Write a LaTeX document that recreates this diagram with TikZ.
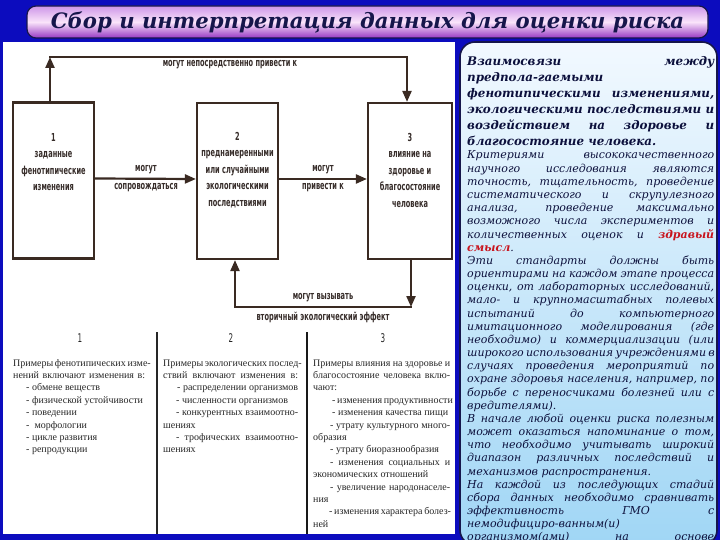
\documentclass[tikz,border=0pt]{standalone}
\usepackage{fontspec}
\setmainfont{Liberation Serif}
\newfontfamily\condf{DejaVu Sans}
\newfontfamily\panelf{DejaVu Serif}
\usetikzlibrary{arrows.meta}
\definecolor{bgblue}{RGB}{12,12,190}
\definecolor{ink}{RGB}{58,42,34}
\definecolor{bink}{RGB}{55,45,42}
\definecolor{navy}{RGB}{22,22,75}
\definecolor{ptext}{RGB}{12,16,60}
\definecolor{redw}{RGB}{200,20,30}
\newcommand{\cnd}[1]{\scalebox{0.6}[1]{#1}}
\newcommand{\jl}[2]{\makebox[#1][s]{#2}}
\begin{document}
\begin{tikzpicture}[x=1pt,y=-1pt,
  conn/.style={draw=ink,line width=2.2pt,-{Triangle[length=11pt,width=9pt]}},
  box/.style={draw=ink,line width=2.2pt,fill=white,minimum height=156pt,inner sep=0pt},
  btext/.style={font=\condf\bfseries\fontsize{11}{16.5}\selectfont,text=bink,align=center,inner sep=0pt},
  lbl/.style={font=\condf\bfseries\fontsize{11}{13}\selectfont,text=bink,inner sep=0pt},
  colnum/.style={font=\condf\fontsize{12}{13}\selectfont,text=black!85,inner sep=0pt},
  coltext/.style={anchor=base west,inner sep=0pt,text=black!85,font=\fontsize{10}{12.4}\selectfont},
]
\fill[bgblue] (0,0) rectangle (720,540);
\useasboundingbox (0,0) rectangle (720,540);
% title bar
\node[draw=navy,line width=1.2pt,rounded corners=9pt,top color={rgb,255:red,205;green,150;blue,232},bottom color={rgb,255:red,150;green,55;blue,195},middle color={rgb,255:red,250;green,228;blue,250},minimum width=681pt,minimum height=32pt,inner sep=0pt] (tb) at (367.5,22) {};
\node[font=\panelf\bfseries\itshape\fontsize{21.2}{24}\selectfont,text=navy,inner sep=0pt] (title) at (367.5,22) {Сбор и интерпретация данных для оценки риска};
% left white panel
\fill[white] (3,42) rectangle (455,534);
% boxes
\node[box,minimum width=81pt] (b1) at (53.5,180.5) {};
\node[box,minimum width=81pt] (b2) at (237.5,181) {};
\node[box,minimum width=84pt] (b3) at (410,181) {};
\node[btext] (t1) at (53.5,162) {\cnd{1}\\\cnd{заданные}\\\cnd{фенотипические}\\\cnd{изменения}};
\node[btext] (t2) at (237.5,170) {\cnd{2}\\\cnd{преднамеренными}\\\cnd{или случайными}\\\cnd{экологическими}\\\cnd{последствиями}};
\node[btext] (t3) at (410,170) {\cnd{3}\\\cnd{влияние на}\\\cnd{здоровье и}\\\cnd{благосостояние}\\\cnd{человека}};
% top connector
\coordinate (tl) at (50,57);
\coordinate (tr) at (407,57);
\draw[conn] (b1.north -| tl) -- (tl);
\draw[conn,line cap=rect] (tl) -- (tr) -- (b3.north -| tr);
\node[lbl] (l0) at (230,65) {\cnd{могут непосредственно привести к}};
% middle connectors
\draw[conn] ([yshift=2pt]b1.east) -- ([yshift=2pt]b2.west);
\draw[conn] ([yshift=2pt]b2.east) -- ([yshift=2pt]b3.west);
\node[lbl] (l1) at (146,170) {\cnd{могут}};
\node[lbl] (l2) at (146,188) {\cnd{сопровождаться}};
\node[lbl] (l3) at (323,170) {\cnd{могут}};
\node[lbl] (l4) at (323,188) {\cnd{привести к}};
% feedback connector
\coordinate (fr) at (411,307);
\coordinate (fl) at (235,307);
\draw[conn] (b3.south -| fr) -- (fr);
\draw[conn,line cap=rect] (fr) -- (fl) -- (b2.south -| fl);
\node[lbl] (l5) at (323,298) {\cnd{могут вызывать}};
\node[lbl] (l6) at (323,317) {\cnd{вторичный экологический эффект}};
% table
\node[colnum] (n1) at (80,338) {\cnd{1}};
\node[colnum] (n2) at (231,338) {\cnd{2}};
\node[colnum] (n3) at (383,338) {\cnd{3}};
\draw[black!85,line width=1.2pt] (157,332) -- (157,534);
\draw[black!90,line width=2pt] (307,332) -- (307,534);
\node[coltext] (c1) at (13,366) {\parbox[t]{132pt}{%
\jl{132pt}{Примеры фенотипических изме-}\\
\jl{132pt}{нений включают изменения в:}\\
\hspace*{13pt}- обмене веществ\\
\hspace*{13pt}- физической устойчивости\\
\hspace*{13pt}- поведении\\
\hspace*{13pt}-\ \ морфологии\\
\hspace*{13pt}- цикле развития\\
\hspace*{13pt}- репродукции}};
\node[coltext] (c2) at (163,366) {\parbox[t]{135pt}{%
\jl{135pt}{Примеры экологических послед-}\\
\jl{135pt}{ствий включают изменения в:}\\
\hspace*{14pt}\jl{121pt}{- распределении организмов}\\
\hspace*{13pt}- численности организмов\\
\hspace*{13pt}\jl{122pt}{- конкурентных взаимоотно-}\\
шениях\\
\hspace*{13pt}\jl{122pt}{- трофических взаимоотно-}\\
шениях}};
\node[coltext] (c3) at (313,366) {\parbox[t]{137pt}{%
\jl{137pt}{Примеры влияния на здоровье и}\\
\jl{137pt}{благосостояние человека вклю-}\\
чают:\\
\hspace*{19pt}\jl{118pt}{- изменения продуктивности}\\
\hspace*{19pt}- изменения качества пищи\\
\hspace*{17pt}\jl{120pt}{- утрату культурного много-}\\
образия\\
\hspace*{17pt}- утрату биоразнообразия\\
\hspace*{17pt}\jl{120pt}{- изменения социальных и}\\
экономических отношений\\
\hspace*{17pt}\jl{120pt}{- увеличение народонаселе-}\\
ния\\
\hspace*{16pt}\jl{121pt}{- изменения характера болез-}\\
ней}};
% right panel
\node[draw=navy,line width=1.6pt,rounded corners=15pt,top color={rgb,255:red,242;green,249;blue,255},bottom color={rgb,255:red,160;green,214;blue,245},minimum width=257pt,minimum height=503pt,inner sep=0pt] (rp) at (588.5,293.5) {};
\node[anchor=base west,inner sep=0pt,text=ptext,font=\panelf\bfseries\itshape\fontsize{11.9}{16}\selectfont] (rh) at (467,66) {\parbox[t]{247pt}{%
\jl{247pt}{Взаимосвязи между}\\
предпола-гаемыми\\
\jl{247pt}{фенотипическими изменениями,}\\
\jl{247pt}{экологическими последствиями и}\\
\jl{247pt}{воздействием на здоровье и}\\
благосостояние человека.}};
\node[anchor=base west,inner sep=0pt,text=ptext,font=\panelf\itshape\fontsize{11}{13.17}\selectfont] (rb) at (467,159) {\parbox[t]{247pt}{%
\jl{247pt}{Критериями высококачественного}\\
\jl{247pt}{научного исследования являются}\\
\jl{247pt}{точность, тщательность, проведение}\\
\jl{247pt}{систематического и скрупулезного}\\
\jl{247pt}{анализа, проведение максимально}\\
\jl{247pt}{возможного числа экспериментов и}\\
\jl{247pt}{количественных оценок и {\color{redw}\bfseries здравый}}\\
{\color{redw}\bfseries смысл}.\\
\jl{247pt}{Эти стандарты должны быть}\\
\jl{247pt}{ориентирами на каждом этапе процесса}\\
\jl{247pt}{оценки, от лабораторных исследований,}\\
\jl{247pt}{мало- и крупномасштабных полевых}\\
\jl{247pt}{испытаний до компьютерного}\\
\jl{247pt}{имитационного моделирования (где}\\
\jl{247pt}{необходимо) и коммерциализации (или}\\
\jl{247pt}{широкого использования учреждениями в}\\
\jl{247pt}{случаях проведения мероприятий по}\\
\jl{247pt}{охране здоровья населения, например, по}\\
\jl{247pt}{борьбе с переносчиками болезней или с}\\
вредителями).\\
\jl{247pt}{В начале любой оценки риска полезным}\\
\jl{247pt}{может оказаться напоминание о том,}\\
\jl{247pt}{что необходимо учитывать широкий}\\
\jl{247pt}{диапазон различных последствий и}\\
механизмов распространения.\\
\jl{247pt}{На каждой из последующих стадий}\\
\jl{247pt}{сбора данных необходимо сравнивать}\\
\jl{247pt}{эффективность ГМО с}\\
немодифициро-ванным(и)\\
\jl{247pt}{организмом(ами) на основе}}};
\end{tikzpicture}
\end{document}
